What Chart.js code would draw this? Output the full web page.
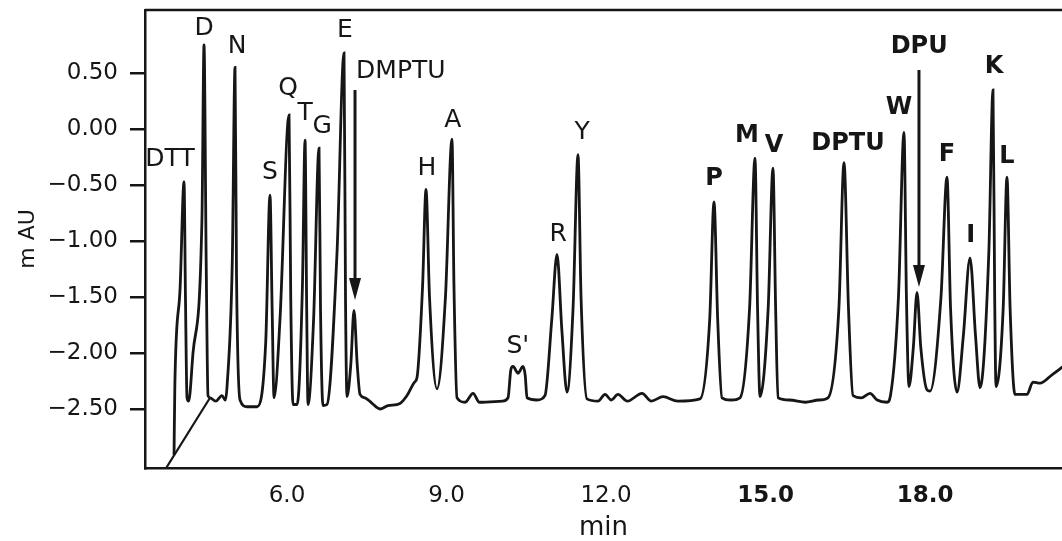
<!DOCTYPE html>
<html>
<head>
<meta charset="utf-8">
<script src="https://cdn.jsdelivr.net/npm/chart.js@4.4.0/dist/chart.umd.min.js"></script>
<style>
  html, body { margin: 0; padding: 0; background: #fff; }
</style>
</head>
<body>
<canvas id="chromChart" width="1062" height="541"></canvas>
<script>
// detector trace: retention time (min) and absorbance (mAU)
const traceTime = [3.875, 3.89, 3.99, 4.063, 4.09, 4.119, 4.15, 4.232, 4.40, 4.439, 4.48, 4.514, 4.552, 4.66, 4.777, 4.84,
    4.872, 4.97, 5.022, 5.05, 5.116, 5.25, 5.436, 5.60, 5.680, 5.72, 5.756, 5.868, 6.038, 6.07, 6.113, 6.19,
    6.29, 6.339, 6.37, 6.395, 6.50, 6.602, 6.63, 6.677, 6.752, 6.94, 7.072, 7.10, 7.128, 7.20, 7.26, 7.32,
    7.373, 7.467, 7.60, 7.749, 7.90, 8.125, 8.257, 8.40, 8.445, 8.55, 8.614, 8.68, 8.821, 8.98, 9.103, 9.14,
    9.197, 9.35, 9.498, 9.62, 10.05, 10.157, 10.21, 10.251, 10.345, 10.439, 10.48, 10.514, 10.70, 10.852, 10.98, 11.078,
    11.17, 11.266, 11.38, 11.473, 11.53, 11.642, 11.85, 11.981, 12.10, 12.225, 12.40, 12.677, 12.85, 13.072, 13.35, 13.768,
    13.95, 14.031, 14.10, 14.181, 14.35, 14.520, 14.70, 14.802, 14.85, 14.896, 15.05, 15.140, 15.19, 15.235, 15.45, 15.75,
    16.00, 16.175, 16.38, 16.476, 16.56, 16.645, 16.80, 16.965, 17.10, 17.285, 17.35, 17.50, 17.604, 17.65, 17.698, 17.78,
    17.849, 17.92, 18.037, 18.093, 18.30, 18.413, 18.48, 18.601, 18.72, 18.846, 18.95, 19.034, 19.20, 19.278, 19.31, 19.335,
    19.47, 19.541, 19.60, 19.692, 19.917, 20.03, 20.162, 20.40, 20.60];
const traceAbs = [-2.91, -2.30, -1.41, -0.47, -1.50, -2.40, -2.43, -2.00, -0.81, 0.75, -1.20, -2.38, -2.40, -2.43, -2.38, -2.42,
    -2.30, -1.20, 0.55, -1.30, -2.42, -2.48, -2.48, -1.90, -0.59, -1.60, -2.40, -1.70, 0.125, -1.50, -2.46, -2.46,
    -1.40, -0.10, -1.60, -2.46, -1.70, -0.17, -1.60, -2.47, -2.46, -1.11, 0.68, -1.50, -2.39, -2.10, -1.62, -2.10,
    -2.37, -2.40, -2.45, -2.50, -2.47, -2.45, -2.38, -2.26, -2.22, -1.40, -0.54, -1.50, -2.32, -1.50, -0.09, -1.40,
    -2.40, -2.44, -2.36, -2.44, -2.43, -2.40, -2.15, -2.12, -2.18, -2.12, -2.20, -2.40, -2.42, -2.38, -1.70, -1.12,
    -1.80, -2.35, -1.60, -0.23, -1.50, -2.41, -2.43, -2.37, -2.42, -2.37, -2.43, -2.36, -2.43, -2.39, -2.43, -2.41,
    -1.70, -0.65, -1.70, -2.40, -2.42, -2.40, -1.60, -0.26, -1.60, -2.39, -1.60, -0.35, -1.60, -2.40, -2.42, -2.44,
    -2.42, -2.40, -1.60, -0.30, -1.60, -2.38, -2.40, -2.36, -2.42, -2.44, -2.38, -1.50, -0.03, -1.50, -2.30, -1.95,
    -1.46, -1.95, -2.33, -2.34, -1.50, -0.43, -1.60, -2.35, -1.85, -1.15, -1.85, -2.31, -1.10, 0.35, -1.50, -2.30,
    -1.60, -0.43, -1.60, -2.37, -2.37, -2.26, -2.27, -2.19, -2.12];

// drawn baseline at the start of the run
const baselineTime = [3.71, 4.552];
const baselineAbs = [-3.04, -2.40];

// peak labels
const peakNames = ['DTT', 'D', 'N', 'S', 'Q', 'T', 'G', 'E', 'DMPTU', 'H', 'A', "S'", 'R', 'Y',
    'P', 'M', 'V', 'DPTU', 'W', 'DPU', 'F', 'I', 'K', 'L'];
const labelTime = [3.80, 4.44, 5.06, 5.68, 6.02, 6.34, 6.66, 7.09, 8.14, 8.63, 9.12, 10.34, 11.10, 11.55,
    14.03, 14.65, 15.16, 16.55, 17.51, 17.89, 18.41, 18.86, 19.30, 19.54];
const labelAbs = [-0.27, 0.90, 0.74, -0.39, 0.36, 0.14, 0.02, 0.875, 0.51, -0.35, 0.08, -1.94, -0.94, -0.03,
    -0.44, -0.06, -0.15, -0.13, 0.19, 0.73, -0.23, -0.95, 0.56, -0.25];
const boldLabels = ['P', 'M', 'V', 'DPTU', 'W', 'DPU', 'F', 'I', 'K', 'L'];

// arrows for the internal standards
const arrowTime = [7.279, 17.886];
const arrowTop = [0.348, 0.527];
const arrowTip = [-1.527, -1.41];

const xTicks = [6, 9, 12, 15, 18];
const xBoldTicks = [15, 18];
const yTicks = [-2.5, -2.0, -1.5, -1.0, -0.5, 0, 0.5];

const ink = '#161616';
const fontFamily = '"DejaVu Sans", sans-serif';

const labelPlugin = {
    id: 'peakLabels',
    afterDatasetsDraw(chart) {
        const ctx = chart.ctx;
        const xs = chart.scales.x;
        const ys = chart.scales.y;
        const area = chart.chartArea;
        ctx.save();
        ctx.strokeStyle = ink;
        ctx.lineWidth = 2.5;
        ctx.beginPath();
        ctx.moveTo(area.left, area.top);
        ctx.lineTo(area.right, area.top);
        ctx.stroke();

        ctx.fillStyle = ink;
        ctx.textAlign = 'center';
        ctx.textBaseline = 'middle';
        peakNames.forEach((name, i) => {
            const bold = boldLabels.includes(name);
            ctx.font = (bold ? 'bold 24px ' : '25px ') + fontFamily;
            ctx.fillText(name, xs.getPixelForValue(labelTime[i]), ys.getPixelForValue(labelAbs[i]));
        });

        arrowTime.forEach((t, i) => {
            const x = xs.getPixelForValue(t);
            const y0 = ys.getPixelForValue(arrowTop[i]);
            const y1 = ys.getPixelForValue(arrowTip[i]);
            ctx.lineWidth = 3;
            ctx.beginPath();
            ctx.moveTo(x, y0);
            ctx.lineTo(x, y1 - 18);
            ctx.stroke();
            ctx.beginPath();
            ctx.moveTo(x - 6, y1 - 22);
            ctx.lineTo(x + 6, y1 - 22);
            ctx.lineTo(x, y1);
            ctx.closePath();
            ctx.fill();
        });
        ctx.restore();
    }
};

const ctx = document.getElementById('chromChart').getContext('2d');
new Chart(ctx, {
    type: 'line',
    data: {
        datasets: [{
            data: traceTime.map((t, i) => ({ x: t, y: traceAbs[i] })),
            borderColor: ink,
            borderWidth: 2.8,
            pointRadius: 0,
            cubicInterpolationMode: 'monotone',
            fill: false
        }, {
            data: baselineTime.map((t, i) => ({ x: t, y: baselineAbs[i] })),
            borderColor: ink,
            borderWidth: 2.2,
            pointRadius: 0,
            tension: 0,
            fill: false
        }]
    },
    options: {
        responsive: false,
        animation: false,
        layout: { padding: { top: 10, right: 0, bottom: 0, left: 0 } },
        plugins: {
            legend: { display: false },
            tooltip: { enabled: false }
        },
        scales: {
            x: {
                type: 'linear',
                min: 3.329,
                max: 20.576,
                afterBuildTicks: scale => { scale.ticks = xTicks.map(v => ({ value: v })); },
                afterFit: scale => {
                    scale.height = 73;
                    scale.paddingLeft = 0;
                    scale.paddingRight = 0;
                },
                grid: { display: false, drawTicks: false },
                border: { display: true, color: ink, width: 2.5 },
                ticks: {
                    autoSkip: false,
                    maxRotation: 0,
                    padding: 14,
                    color: ink,
                    font: c => ({ family: fontFamily, size: 23, weight: xBoldTicks.includes(c.tick && c.tick.value) ? 'bold' : 'normal' }),
                    callback: v => v.toFixed(1)
                },
                title: {
                    display: true,
                    text: 'min',
                    color: ink,
                    font: { family: fontFamily, size: 26, lineHeight: 1 },
                    padding: { top: 0, bottom: 0 }
                }
            },
            y: {
                min: -3.027,
                max: 1.0625,
                afterBuildTicks: scale => { scale.ticks = yTicks.map(v => ({ value: v })); },
                afterFit: scale => {
                    scale.width = 145;
                    scale.paddingTop = 0;
                    scale.paddingBottom = 0;
                },
                grid: { drawOnChartArea: false, drawTicks: true, tickLength: 15, color: ink, lineWidth: 2.5 },
                border: { display: true, color: ink, width: 2.5 },
                ticks: {
                    autoSkip: false,
                    padding: 12,
                    color: ink,
                    font: { family: fontFamily, size: 23 },
                    callback: v => (v < 0 ? '\u2212' : '') + Math.abs(v).toFixed(2)
                },
                title: {
                    display: true,
                    text: 'm AU',
                    color: ink,
                    font: { family: fontFamily, size: 22 },
                    padding: { top: 15, bottom: 0 }
                }
            }
        }
    },
    plugins: [labelPlugin]
});
</script>
</body>
</html>
